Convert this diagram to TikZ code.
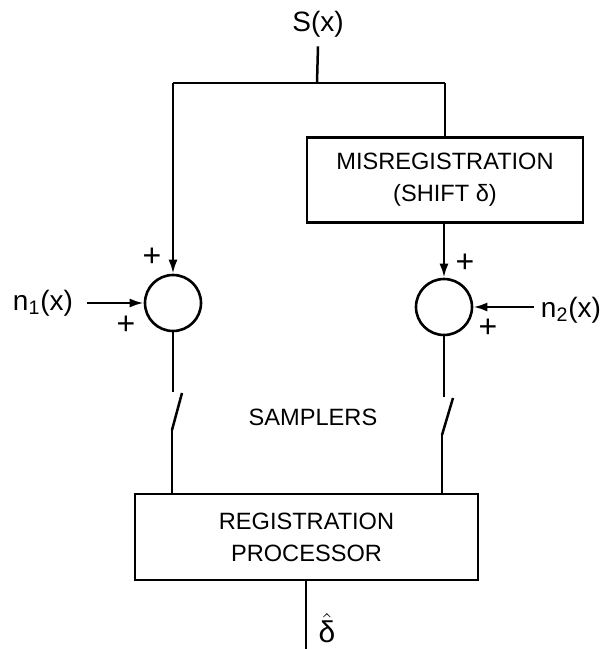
\documentclass[tikz,border=0pt]{standalone}
\usepackage{fontspec}
\setmainfont{Liberation Sans}
\usetikzlibrary{arrows.meta,calc,positioning}
\tikzset{pin/.style={-{Latex[length=7pt,width=4.5pt]}},
  blk/.style={draw, line width=1.3pt, font=\fontsize{11.8}{16}\selectfont, align=center},
  summer/.style={circle, draw, line width=1.3pt, minimum size=28pt, inner sep=0pt},
  sgn/.style={font=\fontsize{16}{16}\selectfont, inner sep=0pt},
  lbl/.style={font=\fontsize{14}{16}\selectfont, inner sep=0pt}}

\begin{document}
\begin{tikzpicture}[x=0.5pt, y=-0.5pt, line width=1.25pt]
  \useasboundingbox (0,0) rectangle (613,649);
  % source and split
  \node[lbl] (sx) at (318,24) {S(x)};
  \coordinate (j) at (317,83);
  \coordinate (jl) at (173,83);
  \coordinate (jr) at (445,83);
  \node[blk, minimum width=138pt, minimum height=42.5pt] (mis) at (445,180) {MISREGISTRATION\\(SHIFT δ)};
  % summing junctions
  \node[summer] (sumL) at (173,303) {};
  \node[summer] (sumR) at (444,307) {};
  \node[lbl] (n1) at (43,303) {n\textsubscript{1}(x)};
  \node[lbl] (n2) at (571,310) {n\textsubscript{2}(x)};
  \node[sgn] (pL1) at (152,257) {+};
  \node[sgn] (pL2) at (126,325) {+};
  \node[sgn] (pR1) at (465,263) {+};
  \node[sgn] (pR2) at (488,328) {+};
  % samplers
  \coordinate (sl1) at (173,392);
  \coordinate (sl2) at (182,393);
  \coordinate (sl3) at (172,430);
  \coordinate (sr1) at (444,397);
  \coordinate (sr2) at (453,398);
  \coordinate (sr3) at (442,435);
  \node[font=\fontsize{11.8}{14}\selectfont] (smp) at (313,417) {SAMPLERS};
  \node[blk, minimum width=171.5pt, minimum height=43pt] (reg) at (306.5,537) {REGISTRATION\\PROCESSOR};
  \coordinate (out) at (306,649);
  \node[lbl, font=\fontsize{15}{16}\selectfont] (dhat) at (327,628) {\(\hat{\mbox{δ}}\)};
  % connections
  \draw (sx.south) ++(0,8) -- (j);
  \draw (jl) -- (jr);
  \draw[pin] (jl) -- (sumL.north);
  \draw (jr) -- (mis.north -| jr);
  \draw[pin] (mis.south -| sumR) -- (sumR.north);
  \draw[pin] ($(n1.east |- sumL.west)+(13,0)$) -- (sumL.west);
  \draw[pin] ($(n2.west |- sumR.east)+(-6,0)$) -- (sumR.east);
  \draw (sumL.south) -- (sl1);
  \draw (sumR.south) -- (sr1);
  \foreach \a/\b in {sl2/sl3, sr2/sr3}{\draw (\a) -- (\b);}
  \draw (sl3) -- (sl3 |- reg.north);
  \draw (sr3) -- (sr3 |- reg.north);
  \draw (reg.south -| out) -- (out);
\end{tikzpicture}
\end{document}
